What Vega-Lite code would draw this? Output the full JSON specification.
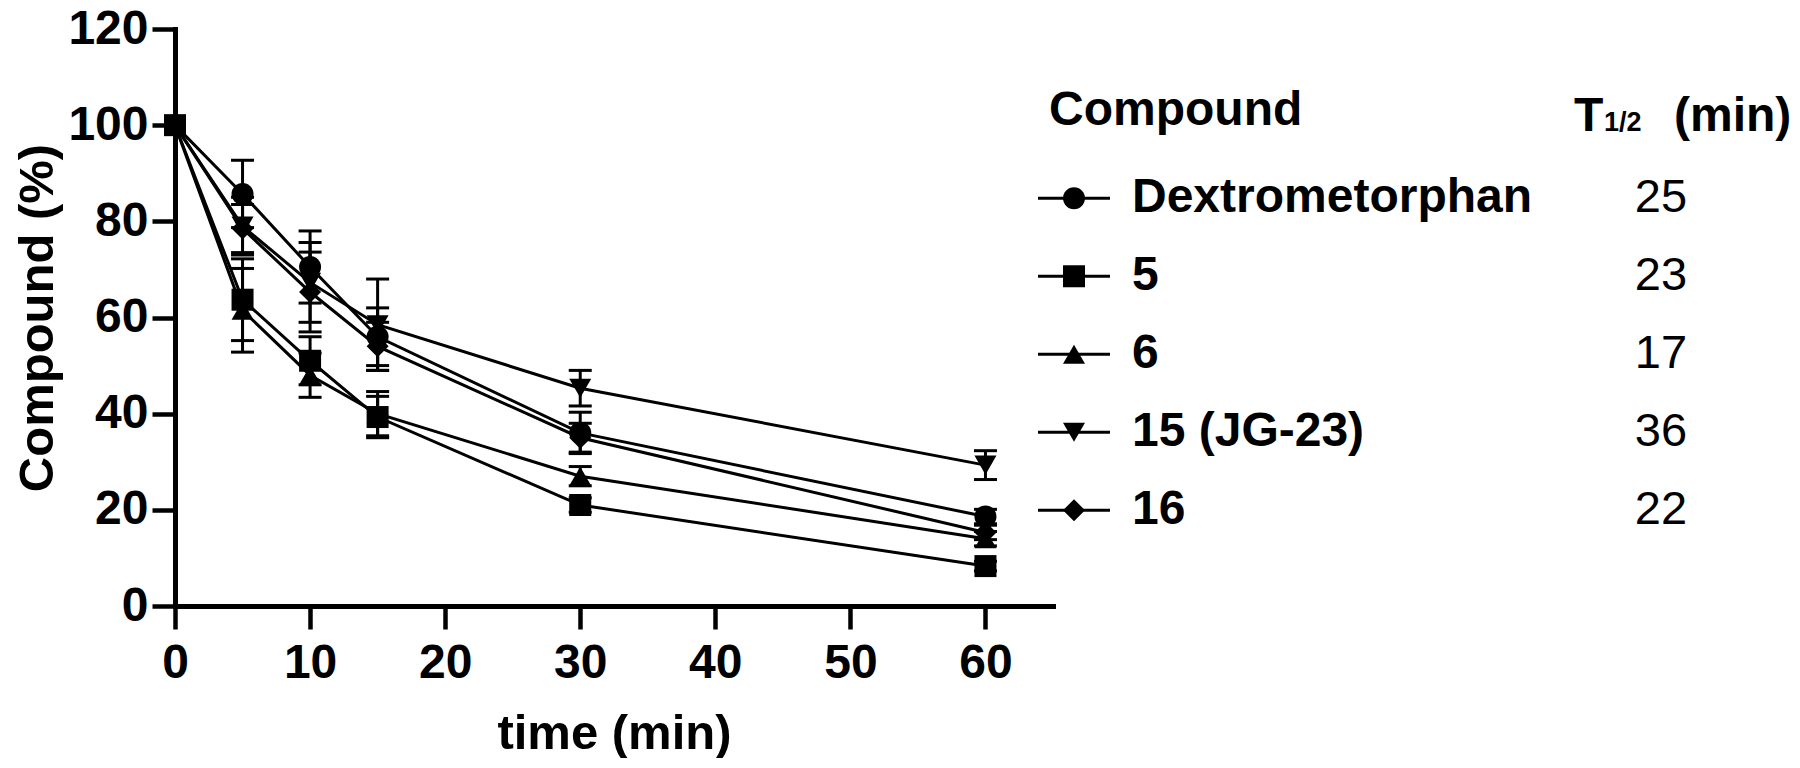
{
  "$schema": "https://vega.github.io/schema/vega-lite/v6.json",
  "background": "white",
  "padding": {"left": 13, "top": 5, "right": 0, "bottom": 0},
  "spacing": 0,
  "bounds": "flush",
  "config": {
    "font": "Liberation Sans",
    "view": {"stroke": null},
    "axis": {
      "grid": false,
      "domainColor": "black",
      "domainWidth": 5,
      "domainCap": "square",
      "tickColor": "black",
      "tickWidth": 4.5,
      "tickSize": 23,
      "labelFont": "Liberation Sans",
      "labelFontSize": 48,
      "labelFontWeight": "bold",
      "labelColor": "black",
      "labelFlush": false,
      "labelOverlap": false,
      "titleFont": "Liberation Sans",
      "titleFontSize": 49,
      "titleFontWeight": "bold",
      "titleColor": "black"
    }
  },
  "datasets": {
    "pk": [
      {"compound": "Dextrometorphan", "time": 0, "pct": 100, "lo": null, "hi": null},
      {"compound": "Dextrometorphan", "time": 5, "pct": 85.7, "lo": 78.7, "hi": 92.7},
      {"compound": "Dextrometorphan", "time": 10, "pct": 70.5, "lo": 63, "hi": 78},
      {"compound": "Dextrometorphan", "time": 15, "pct": 56, "lo": 50, "hi": 62},
      {"compound": "Dextrometorphan", "time": 30, "pct": 36, "lo": 31.7, "hi": 40.3},
      {"compound": "Dextrometorphan", "time": 60, "pct": 18.6, "lo": 17.1, "hi": 20.1},
      {"compound": "6", "time": 0, "pct": 100, "lo": null, "hi": null},
      {"compound": "6", "time": 5, "pct": 61.5, "lo": 52.8, "hi": 70.2},
      {"compound": "6", "time": 10, "pct": 48, "lo": 43.4, "hi": 52.6},
      {"compound": "6", "time": 15, "pct": 40, "lo": 35.4, "hi": 44.6},
      {"compound": "6", "time": 30, "pct": 27, "lo": 25, "hi": 29},
      {"compound": "6", "time": 60, "pct": 14, "lo": 12.5, "hi": 15.5},
      {"compound": "15 (JG-23)", "time": 0, "pct": 100, "lo": null, "hi": null},
      {"compound": "15 (JG-23)", "time": 5, "pct": 79, "lo": 73, "hi": 85},
      {"compound": "15 (JG-23)", "time": 10, "pct": 67.3, "lo": 59, "hi": 75.6},
      {"compound": "15 (JG-23)", "time": 15, "pct": 58.5, "lo": 49, "hi": 68},
      {"compound": "15 (JG-23)", "time": 30, "pct": 45.3, "lo": 41.6, "hi": 49},
      {"compound": "15 (JG-23)", "time": 60, "pct": 29.3, "lo": 26.3, "hi": 32.3},
      {"compound": "16", "time": 0, "pct": 100, "lo": null, "hi": null},
      {"compound": "16", "time": 5, "pct": 78.5, "lo": 73.5, "hi": 83.5},
      {"compound": "16", "time": 10, "pct": 65.3, "lo": 57, "hi": 73.6},
      {"compound": "16", "time": 15, "pct": 54, "lo": 49, "hi": 59},
      {"compound": "16", "time": 30, "pct": 35, "lo": 32, "hi": 38},
      {"compound": "16", "time": 60, "pct": 15.3, "lo": 13.8, "hi": 16.8},
      {"compound": "5", "time": 0, "pct": 100, "lo": null, "hi": null},
      {"compound": "5", "time": 5, "pct": 63.7, "lo": 55.2, "hi": 72.2},
      {"compound": "5", "time": 10, "pct": 51, "lo": 46, "hi": 56},
      {"compound": "5", "time": 15, "pct": 39.3, "lo": 35, "hi": 43.6},
      {"compound": "5", "time": 30, "pct": 21, "lo": 19.5, "hi": 22.5},
      {"compound": "5", "time": 60, "pct": 8.3, "lo": 7.3, "hi": 9.3}
    ],
    "legend": [
      {"compound": "Dextrometorphan", "t12": 25},
      {"compound": "5", "t12": 23},
      {"compound": "6", "t12": 17},
      {"compound": "15 (JG-23)", "t12": 36},
      {"compound": "16", "t12": 22}
    ],
    "header": [
      {"compound": "Compound"}
    ]
  },
  "hconcat": [
    {
      "width": 878,
      "height": 577,
      "data": {"name": "pk"},
      "encoding": {
        "x": {
          "field": "time",
          "type": "quantitative",
          "scale": {"domain": [0, 65], "nice": false, "zero": false},
          "axis": {"values": [0, 10, 20, 30, 40, 50, 60], "title": "time (min)", "labelPadding": 10, "titlePadding": 22}
        }
      },
      "layer": [
        {
          "transform": [{"filter": "isValid(datum.lo)"}],
          "mark": {
            "type": "errorbar",
            "color": "black",
            "opacity": 1,
            "thickness": 3,
            "rule": {"color": "black", "opacity": 1, "strokeWidth": 3},
            "ticks": {"size": 23, "thickness": 3, "color": "black", "opacity": 1}
          },
          "encoding": {
            "y": {"field": "lo", "type": "quantitative", "scale": {"domain": [0, 120], "nice": false}, "title": "Compound (%)"},
            "y2": {"field": "hi"}
          }
        },
        {
          "mark": {"type": "line", "color": "black", "strokeWidth": 3},
          "encoding": {
            "y": {"field": "pct", "type": "quantitative", "scale": {"domain": [0, 120], "nice": false},
              "axis": {"values": [0, 20, 40, 60, 80, 100, 120], "title": "Compound (%)", "labelPadding": 4, "titlePadding": 5}},
            "detail": {"field": "compound"}
          }
        },
        {
          "mark": {"type": "point", "filled": true, "color": "black", "opacity": 1, "size": 484},
          "encoding": {
            "y": {"field": "pct", "type": "quantitative", "scale": {"domain": [0, 120], "nice": false}},
            "shape": {
              "field": "compound",
              "type": "nominal",
              "scale": {"domain": ["Dextrometorphan", "5", "6", "15 (JG-23)", "16"], "range": ["circle", "square", "triangle-up", "triangle-down", "diamond"]},
              "legend": null
            }
          }
        }
      ]
    },
    {
      "width": 42,
      "height": 546,
      "encoding": {
        "y": {
          "field": "compound",
          "type": "nominal",
          "scale": {"type": "point", "domain": ["Compound", "Dextrometorphan", "5", "6", "15 (JG-23)", "16"], "padding": 1, "align": 0.585},
          "axis": null
        }
      },
      "layer": [
        {
          "data": {"name": "legend"},
          "mark": {"type": "point", "shape": "stroke", "filled": false, "color": "black", "strokeWidth": 3, "opacity": 1, "size": 5184}
        },
        {
          "data": {"name": "legend"},
          "mark": {"type": "point", "filled": true, "color": "black", "opacity": 1, "size": 484},
          "encoding": {
            "shape": {
              "field": "compound",
              "type": "nominal",
              "scale": {"domain": ["Dextrometorphan", "5", "6", "15 (JG-23)", "16"], "range": ["circle", "square", "triangle-up", "triangle-down", "diamond"]},
              "legend": null
            }
          }
        },
        {
          "data": {"name": "legend"},
          "mark": {"type": "text", "align": "left", "baseline": "middle", "dx": 58, "fontSize": 48, "fontWeight": "bold", "color": "black"},
          "encoding": {"text": {"field": "compound"}}
        },
        {
          "data": {"name": "legend"},
          "mark": {"type": "text", "align": "center", "baseline": "middle", "dx": 587, "fontSize": 47, "fontWeight": "normal", "color": "black"},
          "encoding": {"text": {"field": "t12"}}
        },
        {
          "data": {"name": "header"},
          "mark": {"type": "text", "align": "left", "baseline": "alphabetic", "dx": -25, "dy": 5, "fontSize": 48, "fontWeight": "bold", "color": "black"},
          "encoding": {"text": {"field": "compound"}}
        },
        {
          "data": {"name": "header"},
          "mark": {"type": "text", "align": "left", "baseline": "alphabetic", "dx": 500, "dy": 11, "fontSize": 48, "fontWeight": "bold", "color": "black", "text": "T"}
        },
        {
          "data": {"name": "header"},
          "mark": {"type": "text", "align": "left", "baseline": "alphabetic", "dx": 530, "dy": 11, "fontSize": 27, "fontWeight": "bold", "color": "black", "text": "1/2"}
        },
        {
          "data": {"name": "header"},
          "mark": {"type": "text", "align": "left", "baseline": "alphabetic", "dx": 600, "dy": 11, "fontSize": 48, "fontWeight": "bold", "color": "black", "text": "(min)"}
        }
      ]
    }
  ]
}
